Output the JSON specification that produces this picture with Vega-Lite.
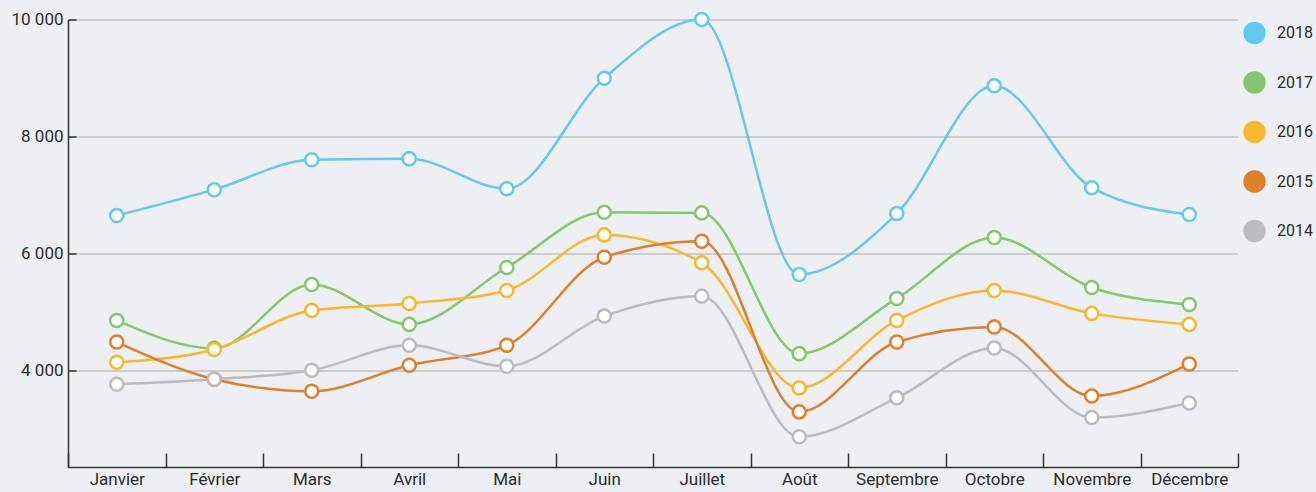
{
  "$schema": "https://vega.github.io/schema/vega-lite/v6.json",
  "width": 1170,
  "height": 447.5,
  "autosize": "none",
  "padding": {"left": 68, "top": 19.5, "right": 78, "bottom": 25},
  "background": "#eeeff3",
  "config": {
    "view": {"stroke": null},
    "font": "Roboto",
    "axis": {"labelFont": "Roboto", "labelColor": "#2b2b2b", "labelFontSize": 17},
    "legend": {"labelFont": "Roboto"}
  },
  "data": {
    "values": [
      {"mois": "Janvier", "annee": "2018", "v": 6648},
      {"mois": "Février", "annee": "2018", "v": 7091},
      {"mois": "Mars", "annee": "2018", "v": 7603},
      {"mois": "Avril", "annee": "2018", "v": 7620},
      {"mois": "Mai", "annee": "2018", "v": 7108},
      {"mois": "Juin", "annee": "2018", "v": 8997},
      {"mois": "Juillet", "annee": "2018", "v": 10000},
      {"mois": "Août", "annee": "2018", "v": 5641},
      {"mois": "Septembre", "annee": "2018", "v": 6682},
      {"mois": "Octobre", "annee": "2018", "v": 8866},
      {"mois": "Novembre", "annee": "2018", "v": 7125},
      {"mois": "Décembre", "annee": "2018", "v": 6665},
      {"mois": "Janvier", "annee": "2017", "v": 4856},
      {"mois": "Février", "annee": "2017", "v": 4378},
      {"mois": "Mars", "annee": "2017", "v": 5470},
      {"mois": "Avril", "annee": "2017", "v": 4788},
      {"mois": "Mai", "annee": "2017", "v": 5761},
      {"mois": "Juin", "annee": "2017", "v": 6704},
      {"mois": "Juillet", "annee": "2017", "v": 6694},
      {"mois": "Août", "annee": "2017", "v": 4288},
      {"mois": "Septembre", "annee": "2017", "v": 5232},
      {"mois": "Octobre", "annee": "2017", "v": 6272},
      {"mois": "Novembre", "annee": "2017", "v": 5419},
      {"mois": "Décembre", "annee": "2017", "v": 5129},
      {"mois": "Janvier", "annee": "2016", "v": 4140},
      {"mois": "Février", "annee": "2016", "v": 4360},
      {"mois": "Mars", "annee": "2016", "v": 5027},
      {"mois": "Avril", "annee": "2016", "v": 5146},
      {"mois": "Mai", "annee": "2016", "v": 5368},
      {"mois": "Juin", "annee": "2016", "v": 6318},
      {"mois": "Juillet", "annee": "2016", "v": 5841},
      {"mois": "Août", "annee": "2016", "v": 3701},
      {"mois": "Septembre", "annee": "2016", "v": 4856},
      {"mois": "Octobre", "annee": "2016", "v": 5368},
      {"mois": "Novembre", "annee": "2016", "v": 4976},
      {"mois": "Décembre", "annee": "2016", "v": 4788},
      {"mois": "Janvier", "annee": "2015", "v": 4486},
      {"mois": "Février", "annee": "2015", "v": 3850},
      {"mois": "Mars", "annee": "2015", "v": 3645},
      {"mois": "Avril", "annee": "2015", "v": 4089},
      {"mois": "Mai", "annee": "2015", "v": 4430},
      {"mois": "Juin", "annee": "2015", "v": 5936},
      {"mois": "Juillet", "annee": "2015", "v": 6209},
      {"mois": "Août", "annee": "2015", "v": 3292},
      {"mois": "Septembre", "annee": "2015", "v": 4487},
      {"mois": "Octobre", "annee": "2015", "v": 4743},
      {"mois": "Novembre", "annee": "2015", "v": 3565},
      {"mois": "Décembre", "annee": "2015", "v": 4111},
      {"mois": "Janvier", "annee": "2014", "v": 3765},
      {"mois": "Février", "annee": "2014", "v": 3850},
      {"mois": "Mars", "annee": "2014", "v": 4004},
      {"mois": "Avril", "annee": "2014", "v": 4430},
      {"mois": "Mai", "annee": "2014", "v": 4072},
      {"mois": "Juin", "annee": "2014", "v": 4930},
      {"mois": "Juillet", "annee": "2014", "v": 5271},
      {"mois": "Août", "annee": "2014", "v": 2866},
      {"mois": "Septembre", "annee": "2014", "v": 3532},
      {"mois": "Octobre", "annee": "2014", "v": 4386},
      {"mois": "Novembre", "annee": "2014", "v": 3196},
      {"mois": "Décembre", "annee": "2014", "v": 3444}
    ]
  },
  "encoding": {
    "x": {
      "field": "mois",
      "type": "nominal",
      "sort": ["Janvier", "Février", "Mars", "Avril", "Mai", "Juin", "Juillet", "Août", "Septembre", "Octobre", "Novembre", "Décembre"],
      "scale": {"type": "band", "paddingInner": 0, "paddingOuter": 0},
      "axis": {
        "title": null,
        "labelAngle": 0,
        "domainColor": "#333333",
        "domainWidth": 1.5,
        "tickColor": "#333333",
        "tickWidth": 1.5,
        "tickSize": -14,
        "labelPadding": 18,
        "tickBand": "extent",
        "grid": false
      }
    },
    "y": {
      "field": "v",
      "type": "quantitative",
      "scale": {"domain": [2350, 10000], "nice": false, "zero": false},
      "axis": {
        "title": null,
        "values": [4000, 6000, 8000, 10000],
        "labelExpr": "replace(format(datum.value, ','), ',', ' ')",
        "domainColor": "#333333",
        "domainWidth": 1.5,
        "tickColor": "#333333",
        "tickWidth": 1.5,
        "tickSize": -8,
        "labelPadding": 13,
        "grid": true,
        "gridColor": "#a9a9a9",
        "gridWidth": 1
      }
    },
    "color": {
      "field": "annee",
      "type": "nominal",
      "scale": {
        "domain": ["2018", "2017", "2016", "2015", "2014"],
        "range": ["#62c9f0", "#85c66f", "#f9b72d", "#e07f2a", "#bbbcbf"]
      },
      "legend": {
        "title": null,
        "orient": "none",
        "legendX": 1175,
        "legendY": 2,
        "symbolType": "circle",
        "symbolSize": 500,
        "symbolStrokeWidth": 0,
        "labelFontSize": 16,
        "labelColor": "#2b2b2b",
        "labelOffset": 11,
        "rowPadding": 26.5,
        "encode": {
          "symbols": {"update": {"fill": {"scale": "color", "field": "value"}, "strokeWidth": {"value": 0}, "opacity": {"value": 1}}}
        }
      }
    }
  },
  "layer": [
    {
      "mark": {"type": "line", "interpolate": "monotone", "strokeWidth": 2.5}
    },
    {
      "mark": {"type": "point", "filled": false, "fill": "white", "fillOpacity": 1, "opacity": 1, "size": 170, "strokeWidth": 2.5}
    }
  ]
}
